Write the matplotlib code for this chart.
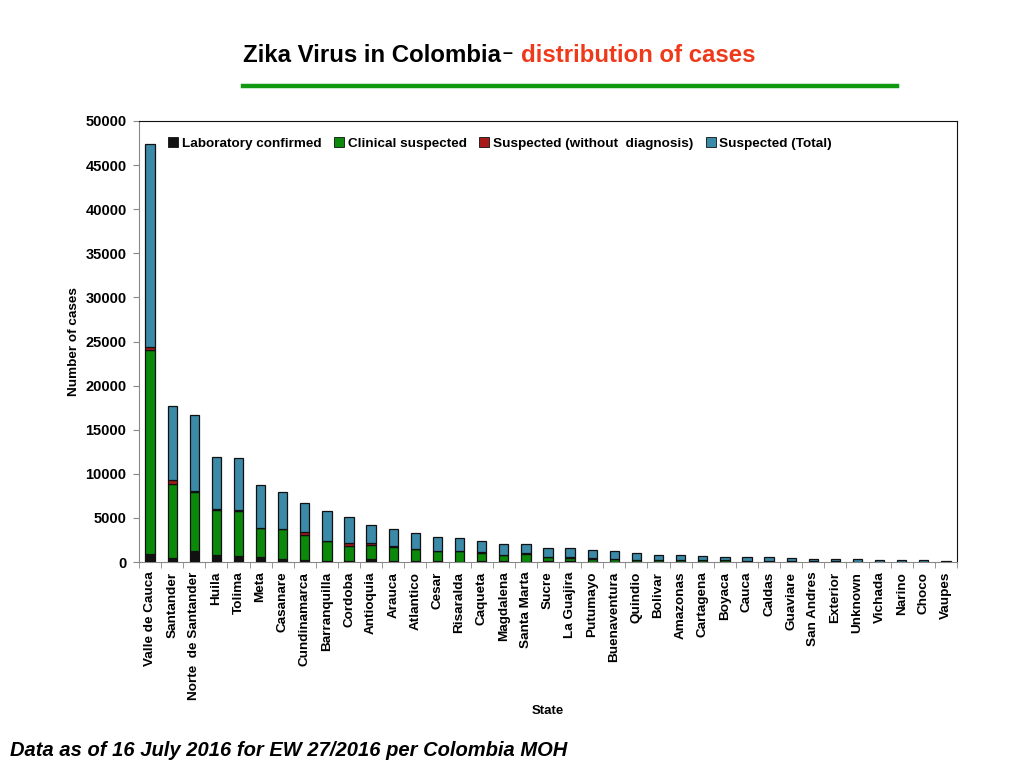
import numpy as np
import matplotlib
matplotlib.use("Agg")
import matplotlib.pyplot as plt
from matplotlib.lines import Line2D

plt.rcParams['font.family'] = ['Liberation Sans', 'DejaVu Sans']

states = [
    "Valle de Cauca", "Santander", "Norte  de Santander", "Huila", "Tolima",
    "Meta", "Casanare", "Cundinamarca", "Barranquilla", "Cordoba",
    "Antioquia", "Arauca", "Atlantico", "Cesar", "Risaralda",
    "Caqueta", "Magdalena", "Santa Marta", "Sucre", "La Guajira",
    "Putumayo", "Buenaventura", "Quindio", "Bolivar", "Amazonas",
    "Cartagena", "Boyaca", "Cauca", "Caldas", "Guaviare",
    "San Andres", "Exterior", "Unknown", "Vichada", "Narino",
    "Choco", "Vaupes"
]

lab_confirmed = [950, 450, 1210, 840, 720, 610, 340, 190, 100, 100,
                 300, 100, 60, 60, 50, 80, 60, 40, 100, 80,
                 40, 30, 30, 30, 20, 20, 30, 30, 20, 20,
                 20, 30, 20, 10, 10, 10, 10]
clinical_suspected = [23130, 8360, 6730, 5100, 5030, 3250, 3370, 2840, 2250, 1710,
                      1670, 1570, 1380, 1190, 1160, 980, 700, 910, 470, 420,
                      350, 270, 220, 150, 200, 180, 150, 100, 120, 60,
                      40, 30, 20, 20, 20, 20, 10]
suspected_no_diag = [300, 450, 60, 30, 100, 30, 30, 370, 20, 390,
                     230, 130, 60, 30, 20, 20, 60, 20, 50, 40,
                     20, 20, 20, 20, 10, 10, 20, 20, 10, 10,
                     10, 10, 10, 10, 10, 10, 10]
suspected_total = [22980, 8430, 8670, 5940, 5940, 4810, 4200, 3290, 3410, 2900,
                   2040, 1940, 1750, 1560, 1490, 1270, 1270, 1120, 970, 1050,
                   920, 890, 700, 650, 570, 490, 400, 420, 400, 360,
                   280, 230, 250, 160, 150, 140, 120]

series = [
    ("Laboratory confirmed", lab_confirmed, "#111111"),
    ("Clinical suspected", clinical_suspected, "#0b890b"),
    ("Suspected (without  diagnosis)", suspected_no_diag, "#a81a1a"),
    ("Suspected (Total)", suspected_total, "#3a8aa8"),
]

fig = plt.figure(figsize=(10.24, 7.68), dpi=100)
ax = fig.add_axes([139 / 1024, 1 - 562 / 768, (957 - 139) / 1024, (562 - 121) / 768])

x = np.arange(len(states))
bottom = np.zeros(len(states))
handles = []
for name, vals, col in series:
    ax.bar(x, vals, width=0.42, bottom=bottom, color=col,
           edgecolor="#111111", linewidth=0.9, zorder=3)
    bottom += np.array(vals)
    handles.append(Line2D([], [], marker="s", linestyle="none", markersize=7,
                          markerfacecolor=col, markeredgecolor="#111111",
                          markeredgewidth=0.6, label=name))

ax.set_xlim(-0.5, len(states) - 0.5)
ax.set_ylim(0, 50000)
ax.set_yticks(np.arange(0, 50001, 5000))
ax.tick_params(axis="y", labelsize=10.5, length=4, color="#888888", pad=5)
for lab in ax.get_yticklabels():
    lab.set_fontweight("bold")

ax.set_xticks(x)
ax.set_xticklabels(states, rotation=90, fontsize=9.7, fontweight="bold", va="top")
ax.tick_params(axis="x", length=0, pad=7)
ax.set_xticks(np.arange(-0.5, len(states) + 0.5, 1), minor=True)
ax.tick_params(axis="x", which="minor", length=4, color="#888888")

for side in ["left", "bottom"]:
    ax.spines[side].set_color("#888888")
for side in ["top", "right"]:
    ax.spines[side].set_color("#111111")

ax.set_ylabel("Number of cases", fontsize=9.7, fontweight="bold", labelpad=4)
ax.set_xlabel("State", fontsize=9.5, fontweight="bold")
ax.xaxis.set_label_coords(0.5, -0.325)

ax.legend(handles=handles, loc="upper left", bbox_to_anchor=(0.016, 1.0), ncol=4,
          frameon=False, prop={"weight": "bold", "size": 9.7},
          handlelength=0.7, handletextpad=0.3, columnspacing=0.95, borderaxespad=0.8)

# title in two colours
fig.canvas.draw()
r = fig.canvas.get_renderer()
t1 = fig.text(243 / 1024, 1 - 55 / 768, "Zika Virus in Colombia", fontsize=17.3,
              fontweight="bold", color="#000000", ha="left", va="center")
bb = t1.get_window_extent(r)
t2 = fig.text(bb.x1 / 1024 + 0.001, 1 - 53 / 768, "–", fontsize=13,
              fontweight="bold", color="#000000", ha="left", va="center")
bb2 = t2.get_window_extent(r)
fig.text(bb2.x1 / 1024 + 0.009, 1 - 55 / 768, "distribution of cases", fontsize=17.3,
         fontweight="bold", color="#ee3a1a", ha="left", va="center")

fig.add_artist(Line2D([243 / 1024, 897 / 1024], [1 - 86 / 768, 1 - 86 / 768],
                      color="#119911", linewidth=3.2))

fig.text(10 / 1024, 1 - 750 / 768, "Data as of 16 July 2016 for EW 27/2016 per Colombia MOH",
         fontsize=14.5, fontweight="bold", fontstyle="italic", ha="left", va="center")

fig.savefig("out.png", dpi=100)
